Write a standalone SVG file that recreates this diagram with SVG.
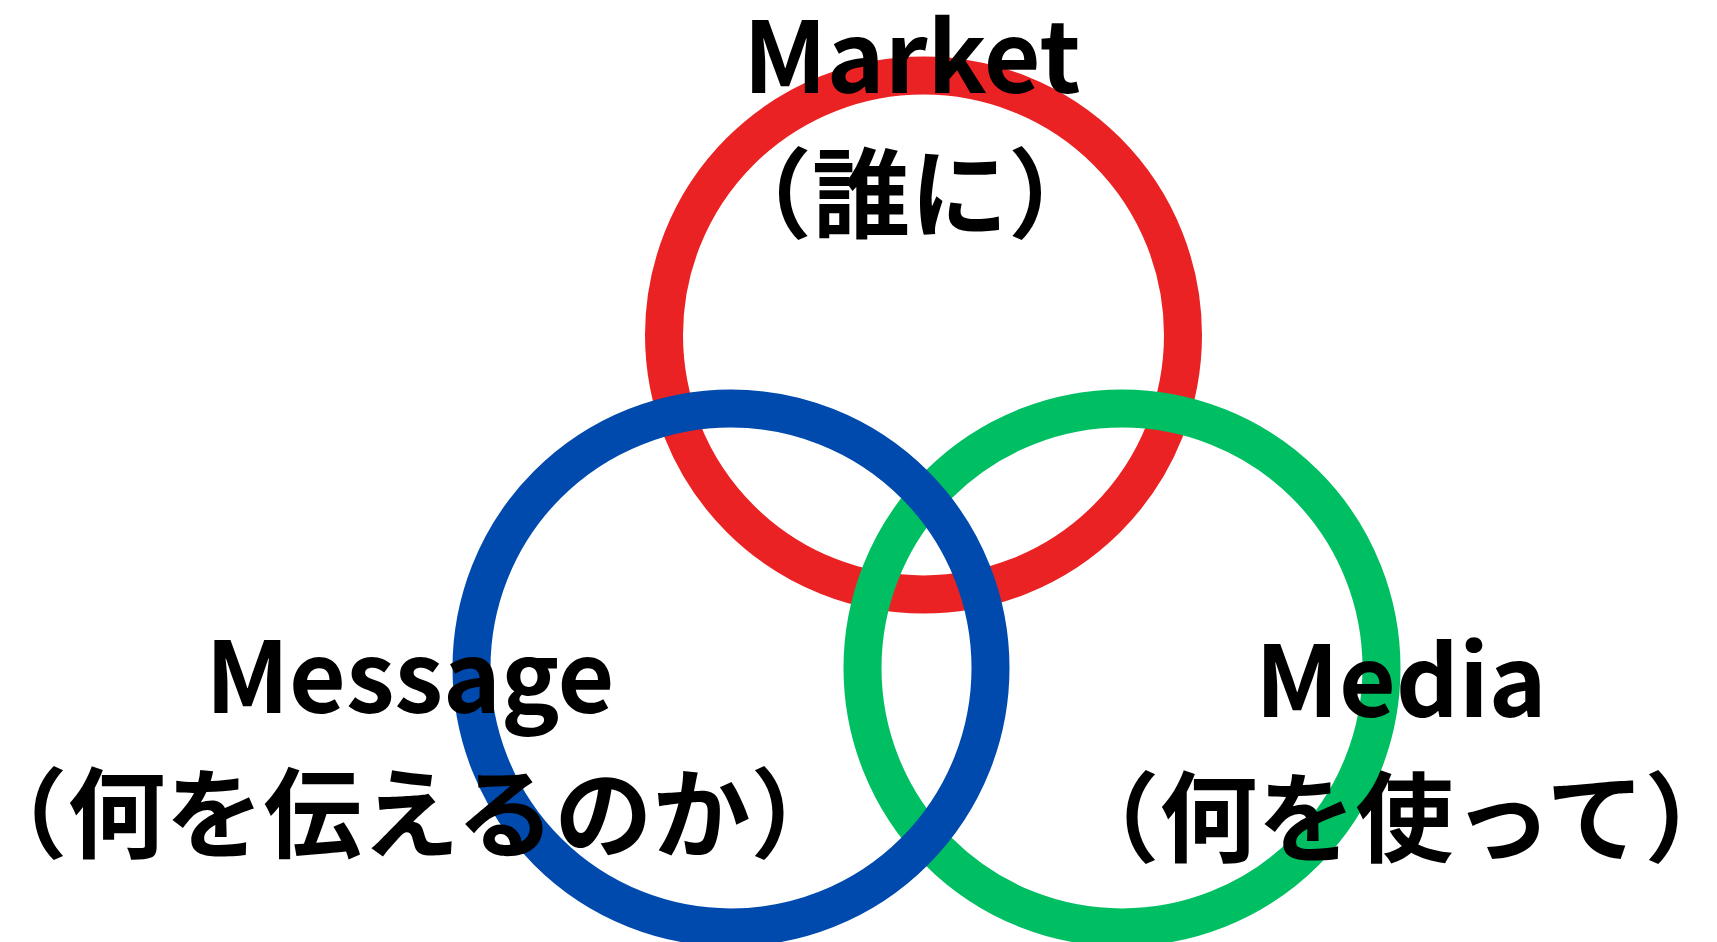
<svg xmlns="http://www.w3.org/2000/svg" width="1717" height="942" viewBox="0 0 1717 942">
<style>
.ring{fill:none;stroke-width:38}
.lbl{font-family:"Noto Sans CJK JP","Noto Sans",sans-serif;font-weight:700;font-size:98px;fill:#000;text-anchor:middle}
</style>
<rect width="1717" height="942" fill="#fff"/>
<g id="connectors"></g>
<g id="market-circle"><circle class="ring" cx="923.5" cy="335" r="259.5" stroke="#EB2224"/></g>
<g id="media-circle"><circle class="ring" cx="1122" cy="668" r="259.5" stroke="#00BF63"/></g>
<g id="message-circle"><circle class="ring" cx="731" cy="668" r="259.5" stroke="#004AAD"/></g>
<g id="market-label"><text class="lbl" x="912" y="93">Market</text><text class="lbl" x="910" y="230">（誰に）</text></g>
<g id="message-label"><text class="lbl" x="410" y="713">Message</text><text class="lbl" x="409" y="850">（何を伝えるのか）</text></g>
<g id="media-label"><text class="lbl" x="1401" y="717">Media</text><text class="lbl" x="1402" y="854">（何を使って）</text></g>
</svg>
